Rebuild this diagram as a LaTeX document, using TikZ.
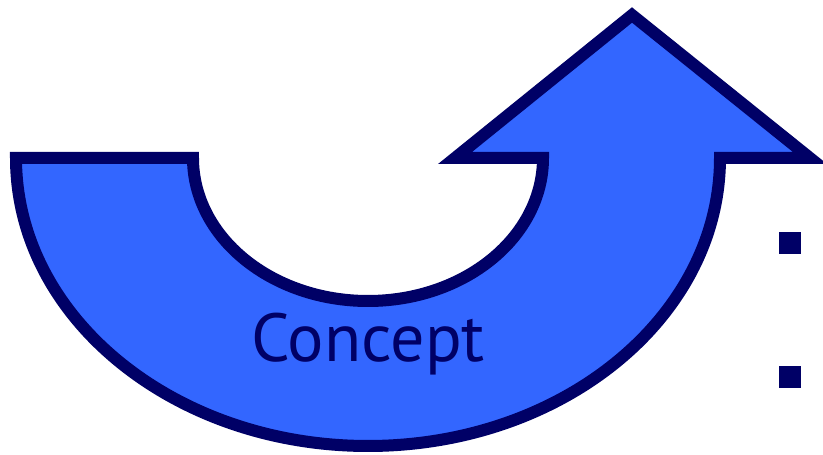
\documentclass[tikz,border=0pt]{standalone}
\usepackage{fontspec}
\setmainfont{PT Sans}
\usepackage{tikz}
\usetikzlibrary{positioning}
\definecolor{arrowblue}{RGB}{51,102,255}
\definecolor{navyline}{RGB}{0,0,102}
\tikzset{
  bentarrow/.style={
    draw=navyline,
    fill=arrowblue,
    line width=12pt,
    line join=miter
  },
  arrowlabel/.style={
    text=navyline,
    font=\fontsize{68}{80}\selectfont,
    inner sep=0pt,
    anchor=base
  },
  bulletsq/.style={
    fill=navyline,
    minimum size=22pt,
    inner sep=0pt
  },
}
\begin{document}
\begin{tikzpicture}[x=1pt,y=1pt]
  \useasboundingbox (0,0) rectangle (823,455);
  % U-turn arrow
  \draw[bentarrow] (16,297) -- (193,297)
    arc[start angle=180,end angle=360,x radius=175pt,y radius=143pt]
    -- (455,297) -- (632,440) -- (810,297) -- (720,297)
    arc[start angle=0,end angle=-180,x radius=352pt,y radius=288pt]
    -- cycle;
  \node[arrowlabel] (concept) at (368,93) {Concept};

  % Bullets
  \node[bulletsq] (bulletA) at (790,212) {};
  \node[bulletsq] (bulletB) at (790,78) {};
\end{tikzpicture}
\end{document}
